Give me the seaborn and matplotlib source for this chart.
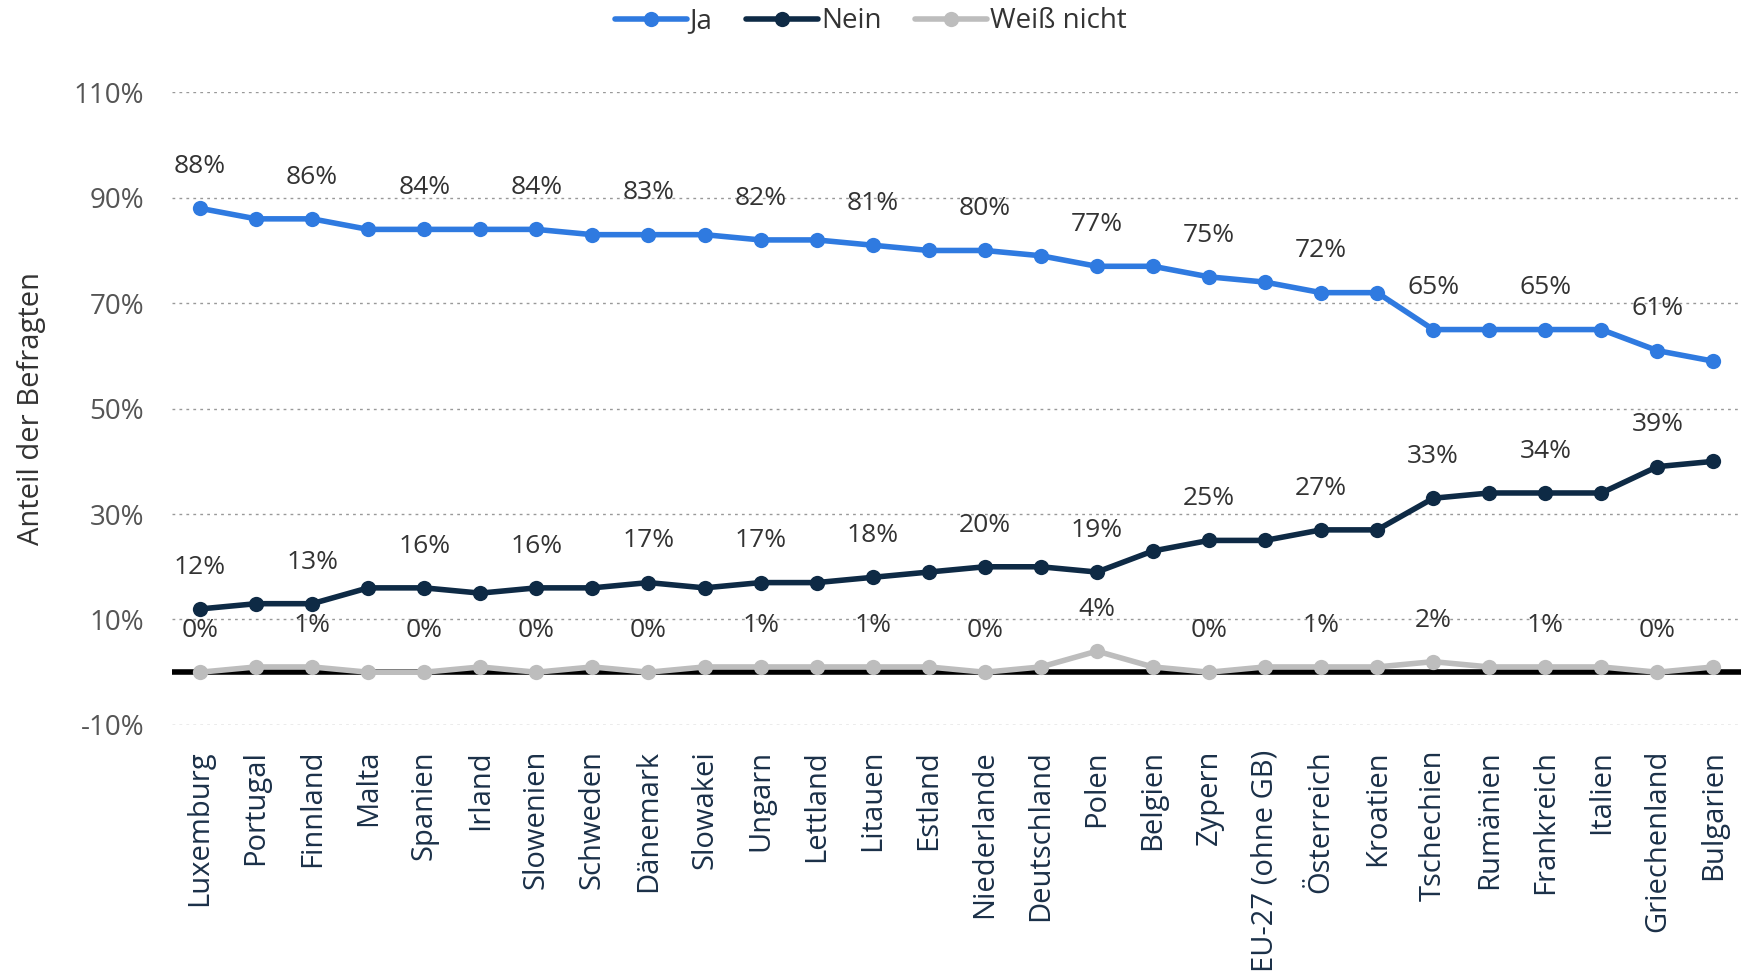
import numpy as np
import pandas as pd
import matplotlib
matplotlib.use("Agg")
import matplotlib.pyplot as plt
import seaborn as sns

laender = ["Luxemburg", "Portugal", "Finnland", "Malta", "Spanien", "Irland", "Slowenien",
           "Schweden", "Dänemark", "Slowakei", "Ungarn", "Lettland", "Litauen", "Estland",
           "Niederlande", "Deutschland", "Polen", "Belgien", "Zypern", "EU-27 (ohne GB)",
           "Österreich", "Kroatien", "Tschechien", "Rumänien", "Frankreich", "Italien",
           "Griechenland", "Bulgarien"]
ja = [88, 86, 86, 84, 84, 84, 84, 83, 83, 83, 82, 82, 81, 80, 80, 79, 77, 77, 75, 74,
      72, 72, 65, 65, 65, 65, 61, 59]
nein = [12, 13, 13, 16, 16, 15, 16, 16, 17, 16, 17, 17, 18, 19, 20, 20, 19, 23, 25, 25,
        27, 27, 33, 34, 34, 34, 39, 40]
weiss_nicht = [0, 1, 1, 0, 0, 1, 0, 1, 0, 1, 1, 1, 1, 1, 0, 1, 4, 1, 0, 1,
               1, 1, 2, 1, 1, 1, 0, 1]
serien = ["Ja", "Nein", "Weiß nicht"]
farben = {"Ja": "#2f7ae0", "Nein": "#0e2a45", "Weiß nicht": "#bdbdbd"}
y_ticks = [-10, 10, 30, 50, 70, 90, 110]

df = pd.DataFrame({
    "Land": laender * 3,
    "pos": list(range(len(laender))) * 3,
    "Serie": [s for s in serien for _ in laender],
    "Wert": ja + nein + weiss_nicht,
})

sns.set_theme(style="white")
plt.rcParams["font.family"] = ["Open Sans", "DejaVu Sans"]

fig = plt.figure(figsize=(17.41, 9.77), dpi=100)
ax = fig.add_axes([0.0988, 0.258, 0.9015, 0.6475])

ax.axhline(0, color="black", lw=4, zorder=1)
sns.lineplot(data=df, x="pos", y="Wert", hue="Serie", hue_order=serien, palette=farben,
             marker="o", markersize=11, markeredgewidth=0, linewidth=4, sort=False,
             ax=ax, zorder=3, legend=True)

# data labels on every second point
for s, vals in zip(serien, [ja, nein, weiss_nicht]):
    for i in range(0, len(vals), 2):
        ax.annotate(f"{vals[i]}%", (i, vals[i]), xytext=(0, 30), textcoords="offset points",
                    ha="center", va="center", fontsize=19, color="#333333", zorder=5)

ax.set_xlim(-0.5, len(laender) - 0.5)
ax.set_ylim(-10, 110)
ax.set_yticks(y_ticks)
ax.set_yticklabels([f"{v}%" for v in y_ticks], fontsize=20, color="#555555")
ax.set_xticks(range(len(laender)))
ax.set_xticklabels(laender, rotation=90, fontsize=21, color="#1b3048")
ax.tick_params(axis="x", length=0, pad=18)
ax.tick_params(axis="y", length=0, pad=20)
ax.grid(axis="y", color="#999999", linestyle=(0, (2, 3)), linewidth=1)
ax.grid(axis="x", visible=False)
for sp in ax.spines.values():
    sp.set_visible(False)
ax.set_xlabel("")
ax.set_ylabel("Anteil der Befragten", fontsize=21, color="#333333")
ax.yaxis.set_label_coords(-0.08, 0.5)

handles, labels = ax.get_legend_handles_labels()
ax.legend_.remove()
fig.legend(handles, labels, loc="center", bbox_to_anchor=(0.5, 0.978), ncol=3, frameon=False,
           fontsize=20, handlelength=2.6, columnspacing=1.2, handletextpad=0.1,
           labelcolor="#333333")

fig.savefig("out.png", dpi=100)
